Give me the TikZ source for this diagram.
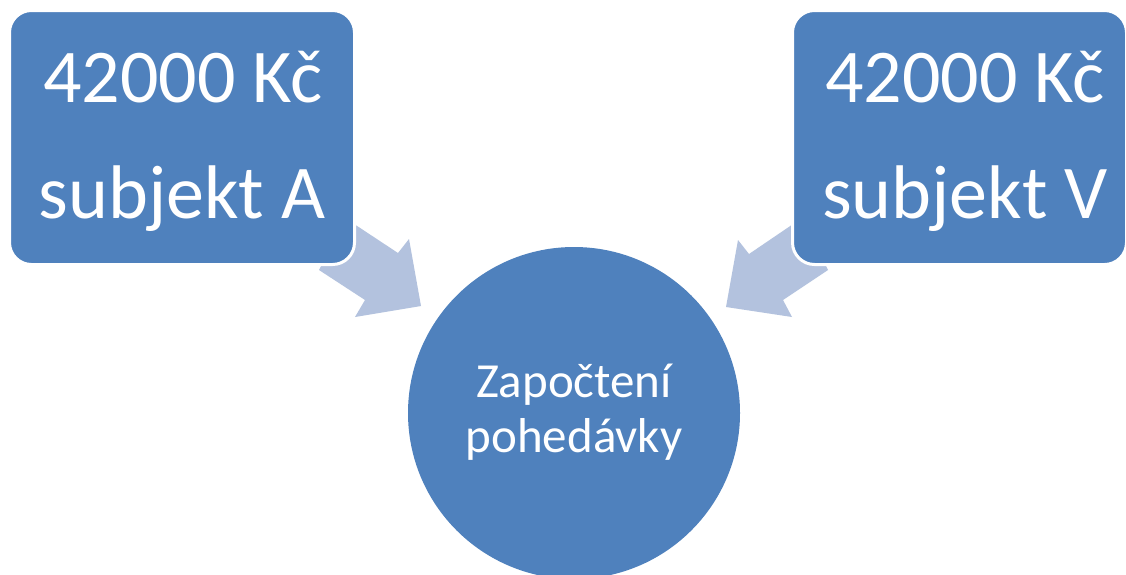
\documentclass[tikz,border=0pt]{standalone}
\usepackage{fontspec}
\setmainfont{Carlito}
\definecolor{boxblue}{RGB}{79,129,189}
\definecolor{arrowblue}{RGB}{179,194,222}
\begin{document}
\begin{tikzpicture}[x=1pt,y=-1pt,
  box/.style={draw=white, line width=3pt, fill=boxblue, rounded corners=22pt,
    minimum height=254pt, inner sep=0pt},
  bigtext/.style={text=white, font=\fontsize{76}{90}\selectfont, anchor=base, inner sep=0pt},
  smalltext/.style={text=white, font=\fontsize{49}{58}\selectfont, anchor=base, inner sep=0pt},
  blockarrow/.style={fill=arrowblue, draw=none},
  hub/.style={circle, fill=boxblue, draw=none, minimum size=332pt, inner sep=0pt}]
\useasboundingbox (0,0) rectangle (1126,574);
\fill[white] (0,0) rectangle (1126,574);
% block arrows (drawn under the boxes)
\fill[blockarrow] (319,270) -- (365,300) -- (355,317) -- (421,306) -- (409,239) -- (398,253) -- (345,218) -- cycle;
\fill[blockarrow] (828,270) -- (783,300) -- (792,317) -- (726,307) -- (738,240) -- (749,254) -- (802,218) -- cycle;
% boxes
\node[box, minimum width=345pt] (A) at (182,137.5) {};
\node[box, minimum width=334pt] (V) at (959.5,137.5) {};
\node[hub] (C) at (574,413) {};
% texts
\node[bigtext] (a1) at (183,102) {42000 Kč};
\node[bigtext] (a2) at (182,218) {subjekt A};
\node[bigtext] (v1) at (965,102) {42000 Kč};
\node[bigtext] (v2) at (965,218) {subjekt V};
\node[smalltext] (c1) at (574,397) {Započtení};
\node[smalltext] (c2) at (574,452) {pohedávky};
\end{tikzpicture}
\end{document}
